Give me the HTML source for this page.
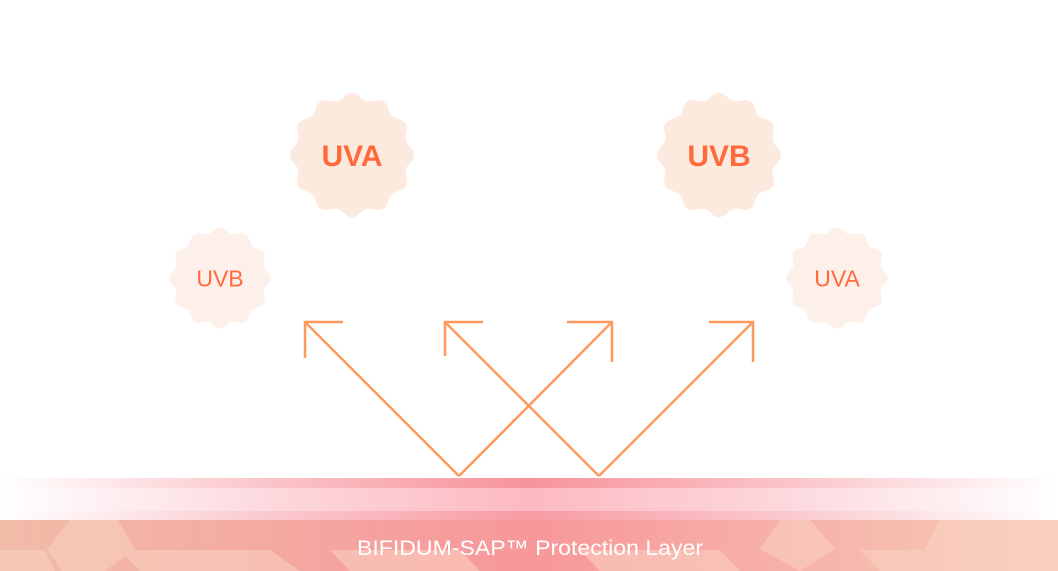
<!DOCTYPE html>
<html><head><style>
body{margin:0;width:1058px;height:571px;background:#fff;overflow:hidden;position:relative;font-family:"Liberation Sans",sans-serif}
.b{position:absolute;left:0;width:1058px}
</style></head><body>
<div class="b" style="top:478px;height:10px;background:linear-gradient(90deg,rgba(246,140,150,0) 0%,rgba(246,140,150,.5) 25%,#f7939a 50%,rgba(246,140,150,.5) 75%,rgba(246,140,150,0) 100%)"></div>
<div class="b" style="top:488px;height:23px;background:linear-gradient(90deg,rgba(250,180,190,0) 0%,rgba(250,180,190,.5) 25%,#fdb9c1 50%,rgba(250,180,190,.5) 75%,rgba(250,180,190,0) 100%)"></div>
<div class="b" style="top:511px;height:10px;background:linear-gradient(90deg,rgba(246,150,160,0) 0%,rgba(246,150,160,.5) 25%,#f89ba3 50%,rgba(246,150,160,.5) 75%,rgba(246,150,160,0) 100%)"></div>
<svg class="b" style="top:520px" width="1058" height="51">
<defs><linearGradient id="g" x1="0" x2="1"><stop offset="0" stop-color="#f1bca8"/><stop offset=".5" stop-color="#f7979a"/><stop offset="1" stop-color="#f6cdb8"/></linearGradient></defs>
<rect width="1058" height="51" fill="url(#g)"/>
<g fill="#fbd3c2" opacity=".55">
<polygon points="0,30 45,30 55,51 0,51"/>
<polygon points="70,0 118,0 135,29 105,51 62,51 47,29"/>
<polygon points="120,30 270,30 300,51 140,51"/>
<polygon points="330,30 460,30 480,51 350,51"/>
<polygon points="580,30 720,30 740,51 600,51"/>
<polygon points="780,0 810,0 835,29 800,51 760,29"/>
<polygon points="860,30 990,30 1010,51 880,51"/>
<polygon points="940,0 1058,0 1058,51 960,51 925,29"/>
</g>
<text x="530" y="35" text-anchor="middle" fill="#fff" font-size="21" font-family="Liberation Sans, sans-serif" textLength="346" lengthAdjust="spacingAndGlyphs">BIFIDUM-SAP™ Protection Layer</text>
</svg>
<svg class="b" style="top:0" width="1058" height="520" id="s">
<g stroke="#ff9a5c" stroke-width="2.5" fill="none">
<path d="M459,476 L305,322 M343,322 H305 V358"/>
<path d="M459,476 L612,322 M567,322 H612 V362"/>
<path d="M599,476 L445,322 M483,322 H445 V356"/>
<path d="M599,476 L753,322 M709,322 H753 V362"/>
</g>
</svg>
<script>
function badge(cx,cy,R,fill,txt,fs,bold){
 var p=[];for(var i=0;i<=240;i++){var t=i/240*2*Math.PI;var r=R*(1+0.055*Math.cos(12*t));p.push((cx+r*Math.sin(t)).toFixed(1)+','+(cy-r*Math.cos(t)).toFixed(1));}
 var s=document.getElementById('s');
 s.insertAdjacentHTML('beforeend','<polygon points="'+p.join(' ')+'" fill="'+fill+'"/><text x="'+cx+'" y="'+(cy+fs*0.36)+'" text-anchor="middle" fill="#ff6a3d" font-size="'+fs+'" font-weight="'+(bold?'bold':'normal')+'" font-family="Liberation Sans, sans-serif">'+txt+'</text>');
}
badge(352,155,59,'#fdeadf','UVA',30,1);
badge(719,155,59,'#fdeadf','UVB',30,1);
badge(220,278,48,'#fdefea','UVB',23,0);
badge(837,278,48,'#fdefea','UVA',23,0);
</script>
</body></html>
